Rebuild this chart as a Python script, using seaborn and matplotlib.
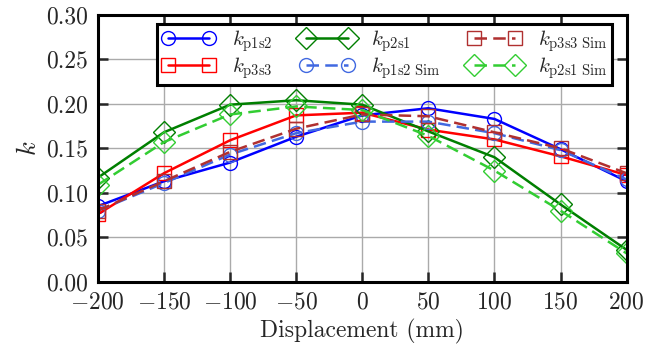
import numpy as np
import pandas as pd
import seaborn as sns
import matplotlib
matplotlib.use("Agg")
import matplotlib.pyplot as plt

# displacement (mm)
disp = [-200, -150, -100, -50, 0, 50, 100, 150, 200]

# measured coupling
k_p1s2 = [0.085, 0.113, 0.134, 0.163, 0.187, 0.195, 0.183, 0.149, 0.113]
k_p3s3 = [0.076, 0.122, 0.159, 0.187, 0.190, 0.171, 0.160, 0.141, 0.120]
k_p2s1 = [0.117, 0.168, 0.199, 0.204, 0.199, 0.169, 0.140, 0.087, 0.036]
# simulated
k_p1s2_sim = [0.080, 0.111, 0.143, 0.167, 0.180, 0.180, 0.167, 0.148, 0.115]
k_p3s3_sim = [0.080, 0.113, 0.146, 0.172, 0.188, 0.186, 0.168, 0.150, 0.122]
k_p2s1_sim = [0.109, 0.157, 0.188, 0.197, 0.193, 0.164, 0.125, 0.080, 0.032]

labels = [r"$k_{\rm p1s2}$", r"$k_{\rm p3s3}$", r"$k_{\rm p2s1}$",
          r"$k_{\rm p1s2\ Sim}$", r"$k_{\rm p3s3\ Sim}$", r"$k_{\rm p2s1\ Sim}$"]

sns.set_style("ticks")
plt.rcParams.update({
    "font.family": "serif",
    "font.serif": ["cmr10", "DejaVu Serif"],
    "mathtext.fontset": "cm",
    "axes.formatter.use_mathtext": True,
    "axes.unicode_minus": True,
})

fig = plt.figure(figsize=(6.48, 3.6), dpi=100)
ax = fig.add_axes([0.151, 0.217, 0.816, 0.742])

series = [k_p1s2, k_p3s3, k_p2s1, k_p1s2_sim, k_p3s3_sim, k_p2s1_sim]
colors = ["#0000ff", "#ff0000", "#007f00", "#4169e1", "#b03030", "#32cd32"]
markers = ["o", "s", "D", "o", "s", "D"]
dashed = [False, False, False, True, True, True]
sizes = [10, 10, 11, 10, 10, 11]

for vals, c, m, d, ms, lab in zip(series, colors, markers, dashed, sizes, labels):
    sns.lineplot(x=disp, y=vals, ax=ax, color=c, marker=m,
                 markersize=ms, markerfacecolor="none", markeredgecolor=c,
                 markeredgewidth=1.0, linewidth=1.8, label=lab)
    if d:
        ax.lines[-1].set_dashes((5, 2.5))

ax.set_xlim(-200, 200)
ax.set_ylim(0, 0.30)
ax.set_xticks(disp)
ax.set_yticks(np.arange(0, 0.301, 0.05))
ax.yaxis.set_major_formatter(matplotlib.ticker.FormatStrFormatter("%.2f"))
ax.grid(True, color="#aaaaaa", linewidth=1.0)
ax.tick_params(direction="in", length=7, width=1.8, top=True, right=True,
               labelsize=17, pad=7)
for sp in ax.spines.values():
    sp.set_linewidth(2.2)
    sp.set_color("black")
ax.set_xlabel("Displacement (mm)", fontsize=17)
ax.set_ylabel(r"$k$", fontsize=19)

leg = ax.legend(ncol=3, numpoints=2, loc="upper right", bbox_to_anchor=(0.972, 0.965),
                fontsize=15, fancybox=False, framealpha=1, edgecolor="black",
                handlelength=2.6, columnspacing=1.3, borderpad=0.2,
                labelspacing=0.05, handletextpad=0.8, borderaxespad=0.0)
leg.get_frame().set_linewidth(2.2)

plt.savefig("out.png", dpi=100)
